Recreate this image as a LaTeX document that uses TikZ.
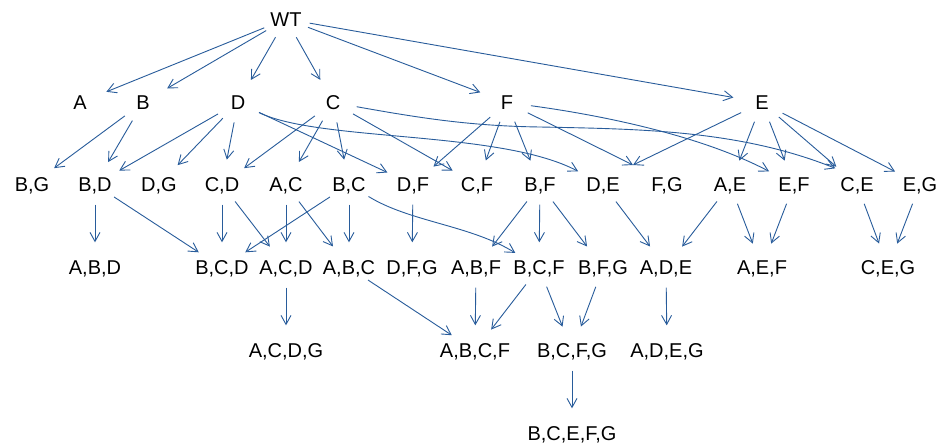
\documentclass[tikz,border=0pt]{standalone}
\usepackage{fontspec}
\setmainfont{Liberation Sans}
\usetikzlibrary{arrows.meta,shapes.geometric}
\definecolor{edgeblue}{RGB}{40,92,155}
\begin{document}
\begin{tikzpicture}[x=1pt,y=-1pt,
  gn/.style={ellipse, minimum width=48pt, minimum height=40pt, inner sep=0pt,
    text height=14.3pt, text depth=0pt, font=\fontsize{20}{24}\selectfont},
  arr/.style={draw=edgeblue, line width=0.9pt,
    -{Straight Barb[length=9pt,width=10pt]}, shorten >=5pt}]
\useasboundingbox[fill=white] (0,0) rectangle (943,447);
% level 0
\node[gn] (WT) at (286,19) {\makebox[0pt]{WT}};
% level 1
\node[gn] (A) at (80,102.5) {\makebox[0pt]{A}};
\node[gn] (B) at (143,102.5) {\makebox[0pt]{B}};
\node[gn] (D) at (238,102.5) {\makebox[0pt]{D}};
\node[gn] (C) at (333,102.5) {\makebox[0pt]{C}};
\node[gn] (F) at (507,102.5) {\makebox[0pt]{F}};
\node[gn] (E) at (762,102.5) {\makebox[0pt]{E}};
% level 2
\node[gn] (BG) at (32,184.5) {\makebox[0pt]{B,G}};
\node[gn] (BD) at (95,184.5) {\makebox[0pt]{B,D}};
\node[gn] (DG) at (159,184.5) {\makebox[0pt]{D,G}};
\node[gn] (CD) at (222,184.5) {\makebox[0pt]{C,D}};
\node[gn] (AC) at (286,184.5) {\makebox[0pt]{A,C}};
\node[gn] (BC) at (349,184.5) {\makebox[0pt]{B,C}};
\node[gn] (DF) at (413,184.5) {\makebox[0pt]{D,F}};
\node[gn] (CF) at (477,184.5) {\makebox[0pt]{C,F}};
\node[gn] (BF) at (540,184.5) {\makebox[0pt]{B,F}};
\node[gn] (DE) at (603,184.5) {\makebox[0pt]{D,E}};
\node[gn] (FG) at (667,184.5) {\makebox[0pt]{F,G}};
\node[gn] (AE) at (730,184.5) {\makebox[0pt]{A,E}};
\node[gn] (EF) at (794,184.5) {\makebox[0pt]{E,F}};
\node[gn] (CE) at (857,184.5) {\makebox[0pt]{C,E}};
\node[gn] (EG) at (920,184.5) {\makebox[0pt]{E,G}};
% level 3
\node[gn] (ABD) at (95,267.5) {\makebox[0pt]{A,B,D}};
\node[gn] (BCD) at (222,267.5) {\makebox[0pt]{B,C,D}};
\node[gn] (ACD) at (286,267.5) {\makebox[0pt]{A,C,D}};
\node[gn] (ABC) at (349,267.5) {\makebox[0pt]{A,B,C}};
\node[gn] (DFG) at (412,267.5) {\makebox[0pt]{D,F,G}};
\node[gn] (ABF) at (476,267.5) {\makebox[0pt]{A,B,F}};
\node[gn] (BCF) at (539,267.5) {\makebox[0pt]{B,C,F}};
\node[gn] (BFG) at (603,267.5) {\makebox[0pt]{B,F,G}};
\node[gn] (ADE) at (666,267.5) {\makebox[0pt]{A,D,E}};
\node[gn] (AEF) at (762,267.5) {\makebox[0pt]{A,E,F}};
\node[gn] (CEG) at (888,267.5) {\makebox[0pt]{C,E,G}};
% level 4
\node[gn] (ACDG) at (286,350.5) {\makebox[0pt]{A,C,D,G}};
\node[gn] (ABCF) at (475,350.5) {\makebox[0pt]{A,B,C,F}};
\node[gn] (BCFG) at (572,350.5) {\makebox[0pt]{B,C,F,G}};
\node[gn] (ADEG) at (667,350.5) {\makebox[0pt]{A,D,E,G}};
% level 5
\node[gn] (BCEFG) at (572,433.5) {\makebox[0pt]{B,C,E,F,G}};
\coordinate (meetDEFG) at (633,165);
% edges level 0 -> 1
\draw[arr] (WT) -- (A);
\draw[arr] (WT) -- (B);
\draw[arr] (WT) -- (D);
\draw[arr] (WT) -- (C);
\draw[arr] (WT) -- (F);
\draw[arr] (WT) -- (E);
% level 1 -> 2
\draw[arr] (B) -- (BG);
\draw[arr] (B) -- (BD);
\draw[arr] (D) -- (BD);
\draw[arr] (D) -- (DG);
\draw[arr] (D) -- (CD);
\draw[arr] (D) -- (DF);
\draw[arr] (D) .. controls (320,142) and (500,130) .. (DE);
\draw[arr] (C) -- (CD);
\draw[arr] (C) -- (AC);
\draw[arr] (C) -- (BC);
\draw[arr] (C) -- (CF);
\draw[arr] (C) .. controls (420,118) and (470,126) .. (540,127)
   .. controls (640,129) and (740,130) .. (CE.140);
\draw[arr] (F) -- (DF);
\draw[arr] (F) -- (CF);
\draw[arr] (F) -- (BF);
\draw[arr, shorten >=0pt] (F) -- (meetDEFG);
\draw[arr] (F) .. controls (600,115) and (700,135) .. (EF);
\draw[arr, shorten >=0pt] (E) -- (meetDEFG);
\draw[arr] (E) -- (AE);
\draw[arr] (E) -- (EF);
\draw[arr] (E) -- (CE);
\draw[arr] (E) -- (EG);
% level 2 -> 3
\draw[arr] (BD) -- (ABD);
\draw[arr] (BD) -- (BCD);
\draw[arr] (CD) -- (BCD);
\draw[arr] (CD) -- (ACD);
\draw[arr] (AC) -- (ACD);
\draw[arr] (AC) -- (ABC);
\draw[arr] (BC) -- (BCD);
\draw[arr] (BC) -- (ABC);
\draw[arr] (BC) .. controls (410,222) and (470,225) .. (BCF);
\draw[arr] (DF) -- (DFG);
\draw[arr] (BF) -- (ABF);
\draw[arr] (BF) -- (BCF);
\draw[arr] (BF) -- (BFG);
\draw[arr] (DE) -- (ADE);
\draw[arr] (AE) -- (ADE);
\draw[arr] (AE) -- (AEF);
\draw[arr] (EF) -- (AEF);
\draw[arr] (CE) -- (CEG);
\draw[arr] (EG) -- (CEG);
% level 3 -> 4
\draw[arr] (ACD) -- (ACDG);
\draw[arr] (ABC) -- (ABCF);
\draw[arr] (ABF) -- (ABCF);
\draw[arr] (BCF) -- (ABCF);
\draw[arr] (BCF) -- (BCFG);
\draw[arr] (BFG) -- (BCFG);
\draw[arr] (ADE) -- (ADEG);
% level 4 -> 5
\draw[arr] (BCFG) -- (BCEFG);
\end{tikzpicture}
\end{document}
